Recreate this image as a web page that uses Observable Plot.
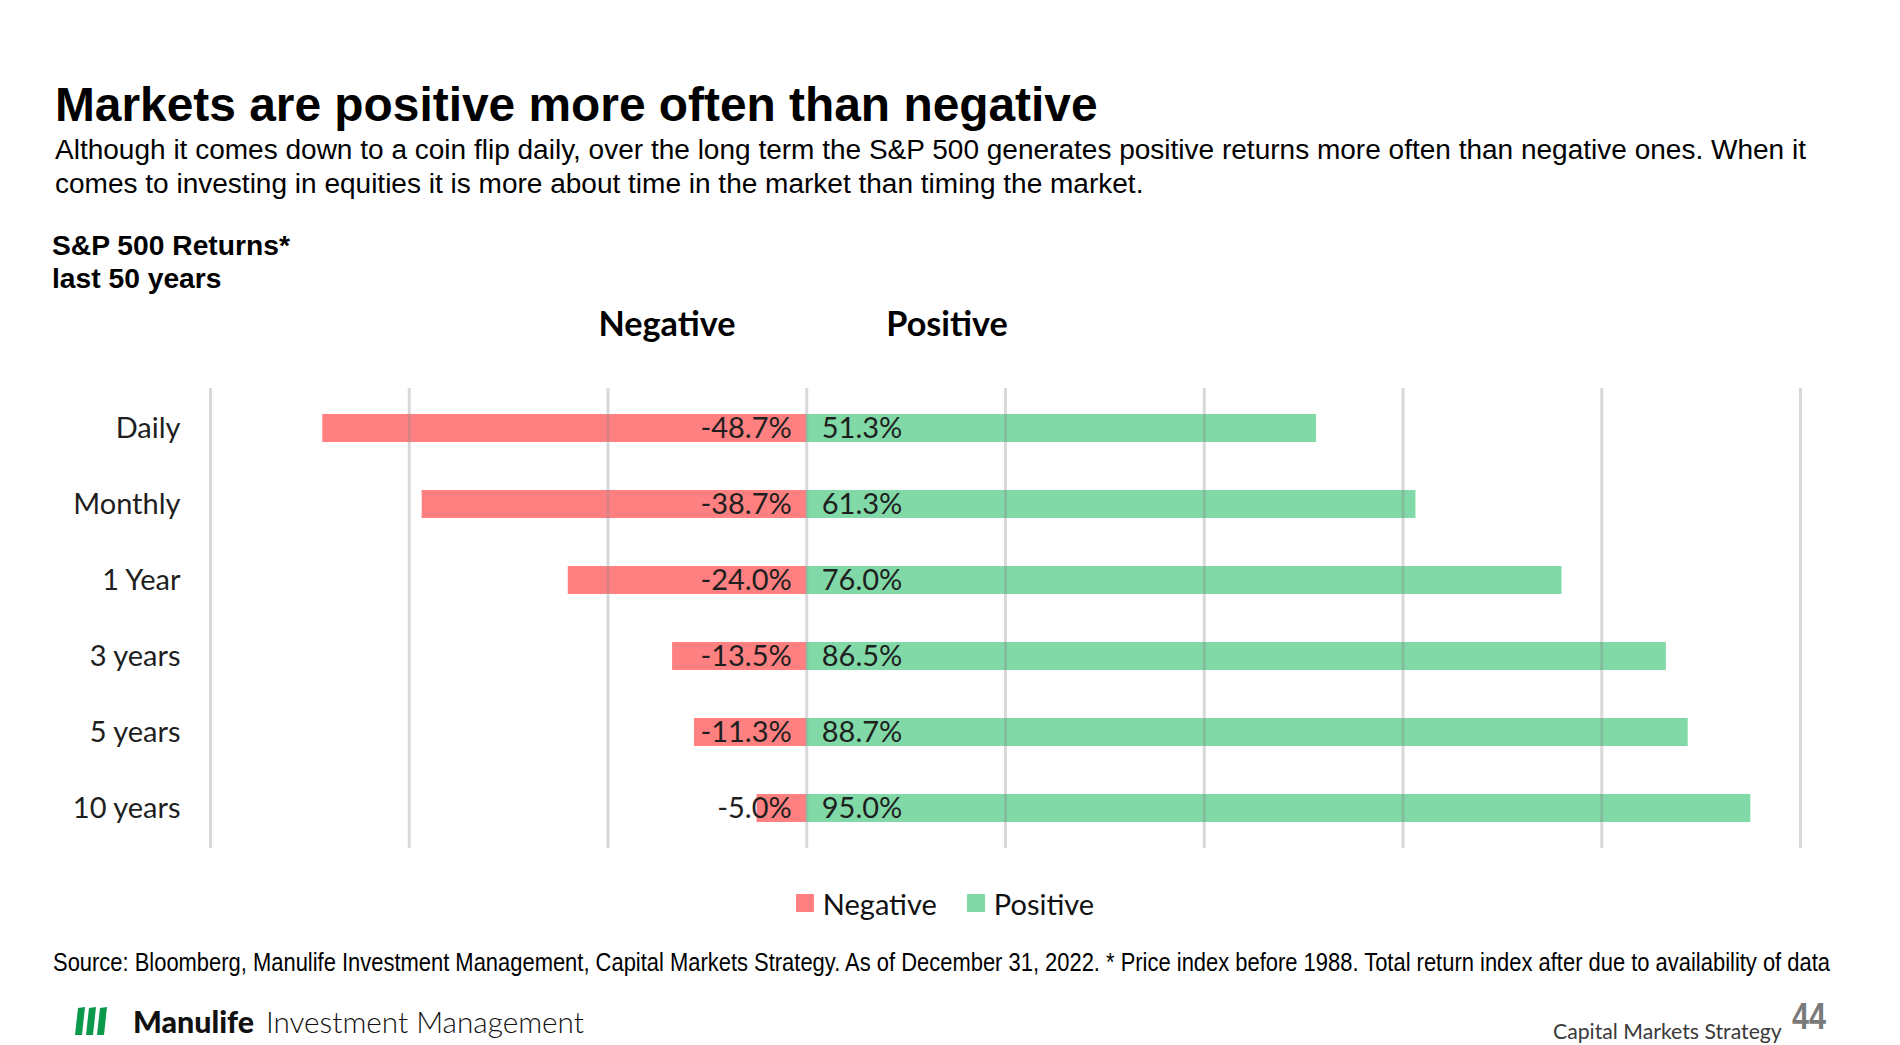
<!DOCTYPE html>
<html><head><meta charset="utf-8">
<script src="https://cdn.jsdelivr.net/npm/d3@7"></script>
<script src="https://cdn.jsdelivr.net/npm/@observablehq/plot@0.6"></script>
<style>
html,body{margin:0;padding:0;background:#fff;width:1900px;height:1045px;overflow:hidden;position:relative}
.t{position:absolute;white-space:nowrap;line-height:1.2;transform-origin:0 0}
#chart{position:absolute;left:0;top:300px}
#legend{position:absolute;left:0;top:0}
#legend > div{margin:0 !important;font-family:Lato,sans-serif !important;font-size:29px !important;color:#111 !important;min-height:0 !important}
#legend span{margin-right:30px !important}
#legend span:last-of-type{margin-right:0 !important}
#legend svg{margin-right:9px !important}
#logo{position:absolute;left:75px;top:1007px}
</style></head><body>
<div id="chart"></div>
<div id="legend"></div>
<svg id="logo" width="32" height="29" viewBox="0 0 32 29">
  <polygon points="3,1 10,0 7,28 0,28" fill="#0b9a4c"/>
  <polygon points="14,1 21,0 18,28 11,28" fill="#0b9a4c"/>
  <polygon points="25,1 32,0 29,28 22,28" fill="#0b9a4c"/>
</svg>
<script>
// ---- data ----
const categories = ["Daily", "Monthly", "1 Year", "3 years", "5 years", "10 years"];
const negative = [-48.7, -38.7, -24.0, -13.5, -11.3, -5.0];
const positive = [51.3, 61.3, 76.0, 86.5, 88.7, 95.0];
const seriesNames = ["Negative", "Positive"];
const seriesColors = ["#ff8080", "#80d9a6"];
const gridTicks = [-60, -40, -20, 0, 20, 40, 60, 80, 100];

const titleText = "Markets are positive more often than negative";
const subtitleLines = [
  "Although it comes down to a coin flip daily, over the long term the S&P 500 generates positive returns more often than negative ones. When it",
  "comes to investing in equities it is more about time in the market than timing the market."
];
const chartLabel = ["S&P 500 Returns*", "last 50 years"];
const sourceText = "Source: Bloomberg, Manulife Investment Management, Capital Markets Strategy. As of December 31, 2022.   * Price index before 1988. Total return index after due to availability of data";

// ---- text helper ----
function place(txt, o) {
  const d = document.createElement("div");
  d.className = "t";
  d.style.fontFamily = o.family;
  d.style.fontSize = o.size + "px";
  d.style.fontWeight = o.weight || 400;
  d.style.color = o.color || "#000";
  d.textContent = txt;
  const m = document.createElement("span");
  m.style.cssText = "display:inline-block;width:0;height:0;vertical-align:baseline";
  d.appendChild(m);
  document.body.appendChild(d);
  let w = d.getBoundingClientRect().width;
  let size = o.size;
  if (o.fit) { size = o.size * o.fit / w; d.style.fontSize = size + "px"; w = d.getBoundingClientRect().width; }
  let sx = 1;
  if (o.stretch) sx = o.stretch / w;
  const base = m.offsetTop;
  d.style.top = (o.y - base) + "px";
  const ww = w * sx;
  d.style.left = (o.anchor === "middle" ? o.x - ww / 2 : o.anchor === "end" ? o.x - ww : o.x) + "px";
  if (sx !== 1) d.style.transform = `scaleX(${sx})`;
  return size;
}

const ARIAL = "'Liberation Sans', Arial, sans-serif";
const NARROW = "'Liberation Sans Narrow', 'Arial Narrow', 'Liberation Sans', sans-serif";
const LATO = "Lato, 'Noto Sans', sans-serif";

place(titleText, {family: ARIAL, weight: 700, size: 46, fit: 1043, x: 55, y: 121});
const subSize = place(subtitleLines[0], {family: ARIAL, size: 23, fit: 1752, x: 55, y: 159});
place(subtitleLines[1], {family: ARIAL, size: subSize, x: 55, y: 193});
const lblSize = place(chartLabel[0], {family: ARIAL, weight: 700, size: 25, fit: 238, x: 52, y: 255});
place(chartLabel[1], {family: ARIAL, weight: 700, size: lblSize, x: 52, y: 288});
const hdrSize = place(seriesNames[0], {family: LATO, weight: 700, size: 33, fit: 137, x: 667, y: 336, anchor: "middle"});
place(seriesNames[1], {family: LATO, weight: 700, size: hdrSize, x: 947, y: 336, anchor: "middle"});
place(sourceText, {family: NARROW, size: 26, stretch: 1777, x: 53, y: 971, color: "#000"});
place("Manulife", {family: LATO, weight: 900, size: 30, fit: 121, x: 133, y: 1033, color: "#111"});
place("Investment Management", {family: LATO, weight: 300, size: 29, fit: 318, x: 266, y: 1033, color: "#111"});
place("Capital Markets Strategy", {family: LATO, weight: 400, size: 27, fit: 229, x: 1553, y: 1039, color: "#3a3a3a"});
place("44", {family: NARROW, weight: 700, size: 37, stretch: 34, x: 1792, y: 1029, color: "#7a7a7a"});

// ---- chart ----
const rows = categories.flatMap((c, i) => [
  {cat: c, type: seriesNames[0], value: negative[i]},
  {cat: c, type: seriesNames[1], value: positive[i]}
]);
const fmt = v => v.toFixed(1) + "%";

const chart = Plot.plot({
  width: 1900, height: 600,
  marginTop: 88, marginBottom: 52, marginLeft: 210, marginRight: 100,
  style: {fontFamily: "Lato, sans-serif", fontSize: "29px", color: "#1f1f1f", background: "transparent"},
  x: {domain: [-60, 100], axis: null},
  y: {domain: categories, paddingInner: 0.635, paddingOuter: 0.3175, label: null, tickSize: 0, tickPadding: 30},
  color: {domain: seriesNames, range: seriesColors},
  marks: [
    Plot.barX(rows, {x: "value", y: "cat", fill: "type"}),
    Plot.ruleX(gridTicks, {stroke: "#888", strokeOpacity: 0.33, strokeWidth: 3}),
    Plot.text(rows.filter(d => d.type === seriesNames[0]), {x: 0, y: "cat", text: d => fmt(d.value), textAnchor: "end", dx: -15, fill: "#1f1f1f", fontSize: 29}),
    Plot.text(rows.filter(d => d.type === seriesNames[1]), {x: 0, y: "cat", text: d => fmt(d.value), textAnchor: "start", dx: 15, fill: "#1f1f1f", fontSize: 29})
  ]
});
document.getElementById("chart").appendChild(chart);

const lg = chart.legend("color", {legend: "swatches", swatchSize: 18});
const lgBox = document.getElementById("legend");
lgBox.appendChild(lg);
const r = lgBox.getBoundingClientRect();
lgBox.style.left = (945 - r.width / 2) + "px";
lgBox.style.top = (903 - r.height / 2) + "px";
</script>
</body></html>
